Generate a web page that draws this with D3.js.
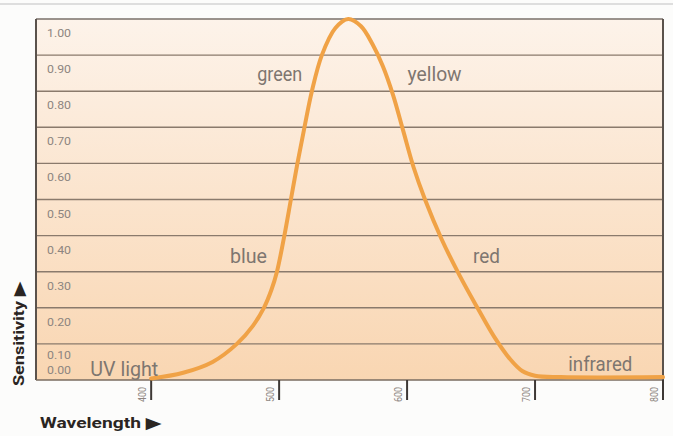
<!DOCTYPE html>
<html><head><meta charset="utf-8">
<script src="https://cdn.jsdelivr.net/npm/d3@7"></script>
<style>body{margin:0;background:#fcfcfb;}svg{display:block;}</style>
</head><body>
<svg id="c" width="673" height="436"></svg>
<script>
// Data
const wavelengths = [400,425,448,467,479.5,488.1,494.0,498.3,504.1,509.2,514.3,519.8,525.6,533.4,544,554,564,573,581,589,597,605,614,627,641,655,668,680,690,700,720,800];
const sensitivity = [0.004,0.02,0.05,0.1,0.15,0.2,0.25,0.3,0.4,0.5,0.6,0.7,0.8,0.9,0.975,1.0,0.98,0.93,0.87,0.79,0.69,0.59,0.5,0.39,0.29,0.2,0.12,0.06,0.025,0.012,0.008,0.008];
const yTicks = [1.0,0.9,0.8,0.7,0.6,0.5,0.4,0.3,0.2,0.1,0.0];
const yTickLabels = ["1.00","0.90","0.80","0.70","0.60","0.50","0.40","0.30","0.20","0.10","0.00"];
const xTicks = [400,500,600,700,800];
const bandLabels = ["green","yellow","blue","red","UV light","infrared"];
const bandWavelengths = [500.5,621.5,476,662,379,751];
const bandValues = [0.828,0.828,0.323,0.323,0.011,0.025];

const svg = d3.select("#c");
const L=36, R=663, T=19, B=380;
const x = d3.scaleLinear().domain([310,800]).range([L,R]);
const y = d3.scaleLinear().domain([0,1]).range([B,T]);

// top grey rule
svg.append("line").attr("x1",0).attr("x2",673).attr("y1",4).attr("y2",4)
  .attr("stroke","#d4d4d4").attr("stroke-width",1.5);

const defs = svg.append("defs");
const g = defs.append("linearGradient").attr("id","bg").attr("x1",0).attr("x2",0).attr("y1",0).attr("y2",1);
g.append("stop").attr("offset","0%").attr("stop-color","#fdf3ea");
g.append("stop").attr("offset","50%").attr("stop-color","#fbe4cd");
g.append("stop").attr("offset","100%").attr("stop-color","#f9d6b2");

svg.append("rect").attr("x",L).attr("y",T).attr("width",R-L).attr("height",B-T).attr("fill","url(#bg)");

// gridlines
svg.append("g").selectAll("line").data(yTicks.filter(v=>v>0&&v<1)).join("line")
  .attr("x1",L).attr("x2",R).attr("y1",d=>y(d)).attr("y2",d=>y(d))
  .attr("stroke","#8a7a6c").attr("stroke-width",1.4);

// frame
svg.append("line").attr("x1",L).attr("x2",R).attr("y1",T).attr("y2",T).attr("stroke","#7a716a").attr("stroke-width",1.6);
svg.append("line").attr("x1",L).attr("x2",L).attr("y1",T).attr("y2",B).attr("stroke","#5a524c").attr("stroke-width",2);
svg.append("line").attr("x1",R).attr("x2",R).attr("y1",T).attr("y2",B+20).attr("stroke","#5a524c").attr("stroke-width",2);
svg.append("line").attr("x1",L).attr("x2",R).attr("y1",B).attr("y2",B).attr("stroke","#7a6c60").attr("stroke-width",1.6);

// y tick labels
svg.append("g").selectAll("text").data(yTicks).join("text")
  .attr("x",47)
  .attr("y",d=> d===0 ? y(d)-6 : (d===0.1 ? y(d)+15 : y(d)+18))
  .attr("font-family","Liberation Sans Narrow, Roboto, sans-serif")
  .attr("font-size",11).attr("fill","#8d8580")
  .attr("textLength",24).attr("lengthAdjust","spacingAndGlyphs")
  .text((d,i)=>yTickLabels[i]);

// x ticks
const xg = svg.append("g");
xg.selectAll("line").data(xTicks).join("line")
  .attr("x1",d=>x(d)).attr("x2",d=>x(d)).attr("y1",B).attr("y2",B+20)
  .attr("stroke","#3d3835").attr("stroke-width",2);
xg.selectAll("text").data(xTicks).join("text")
  .attr("transform",d=>`translate(${x(d)-5},${B+22}) rotate(-90)`)
  .attr("font-family","Liberation Sans Narrow, Roboto, sans-serif")
  .attr("font-size",10).attr("fill","#8d8580")
  .attr("textLength",15).attr("lengthAdjust","spacingAndGlyphs")
  .text(d=>d);

// curve
const line = d3.line().x((d,i)=>x(wavelengths[i])).y(d=>y(d)).curve(d3.curveCatmullRom.alpha(0.5));
svg.append("path").datum(sensitivity).attr("d",line)
  .attr("fill","none").attr("stroke","#f0a246").attr("stroke-width",4).attr("stroke-linecap","round");

// band labels
const bandWidths = [45,54,37,27,68,64];
svg.append("g").selectAll("text").data(bandLabels).join("text")
  .attr("x",(d,i)=>x(bandWavelengths[i]))
  .attr("y",(d,i)=>y(bandValues[i]))
  .attr("text-anchor","middle")
  .attr("font-family","Liberation Sans Narrow, Roboto, sans-serif")
  .attr("font-size",20).attr("fill","#7e7670")
  .attr("textLength",(d,i)=>bandWidths[i]).attr("lengthAdjust","spacingAndGlyphs")
  .text(d=>d);

// axis titles
svg.append("text").attr("transform","translate(24,386) rotate(-90)")
  .attr("font-family","Liberation Sans Narrow, Roboto, sans-serif").attr("font-weight","bold")
  .attr("font-size",15).attr("fill","#2a2522")
  .attr("textLength",104).attr("lengthAdjust","spacingAndGlyphs")
  .text("Sensitivity \u25B6");
svg.append("text").attr("x",40).attr("y",428)
  .attr("font-family","Liberation Sans Narrow, Roboto, sans-serif").attr("font-weight","bold")
  .attr("font-size",15).attr("fill","#2a2522")
  .attr("textLength",121).attr("lengthAdjust","spacingAndGlyphs")
  .text("Wavelength \u25B6");
</script>
</body></html>
